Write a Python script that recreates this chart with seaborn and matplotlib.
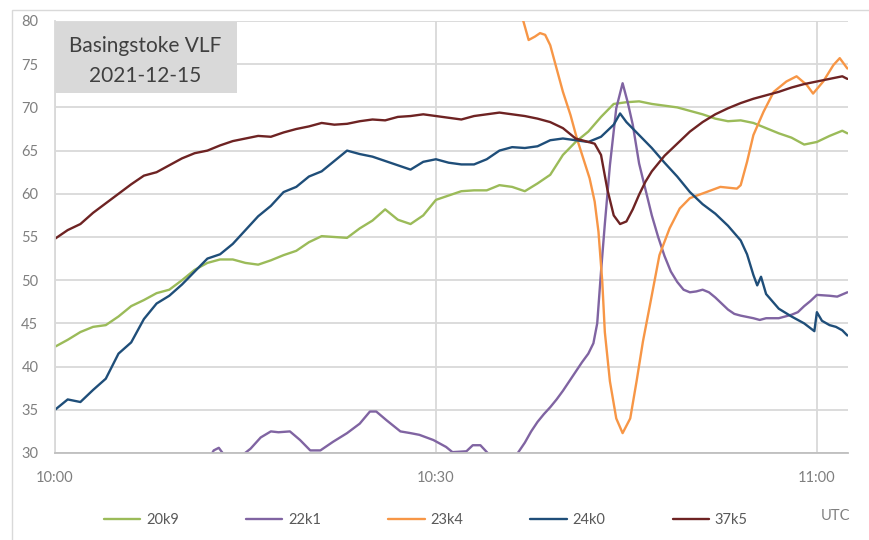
import pandas as pd
import matplotlib.pyplot as plt
import seaborn as sns
from matplotlib.patches import Rectangle

# signal strength, minutes after 10:00 UTC
t_20k9 = list(range(0, 63)) + [62.4]
v_20k9 = [42.3, 43.1, 44.0, 44.6, 44.8, 45.8, 47.0, 47.7, 48.5, 48.9, 50.0, 51.2, 52.0, 52.4, 52.4, 52.0,
          51.8, 52.3, 52.9, 53.4, 54.4, 55.1, 55.0, 54.9, 56.0, 56.9, 58.2, 57.0, 56.5, 57.5, 59.3,
          59.8, 60.3, 60.4, 60.4, 61.0, 60.8, 60.3, 61.2, 62.2, 64.5, 66.0, 67.2, 68.9, 70.4, 70.6, 70.7,
          70.4, 70.2, 70.0, 69.6, 69.2, 68.7, 68.4, 68.5, 68.2, 67.6, 67.0, 66.5, 65.7, 66.0, 66.7, 67.3,
          67.0]

t_22k1 = [11.5, 12.0, 12.5, 12.9, 13.3, 14.0, 14.8, 15.4, 16.2, 17.0, 17.6, 18.5, 19.3, 20.1, 20.9,
          21.9, 23.0, 24.0, 24.8, 25.3, 26.1, 27.2, 28.0, 28.7, 29.8, 30.8, 31.3, 32.4, 32.9, 33.5,
          34.2, 35.0, 35.8, 36.4, 37.0, 37.5, 38.0, 38.5, 39.0, 39.5, 40.0, 40.5, 41.0, 41.5, 42.0,
          42.4, 42.7, 43.0, 43.3, 43.7, 44.2, 44.7, 45.1, 45.5, 46.0, 46.5, 47.0, 47.5, 48.0, 48.5,
          49.0, 49.5, 50.0, 50.5, 51.0, 51.5, 52.0, 52.5, 53.0, 53.5, 54.0, 55.0, 55.5, 56.0, 57.0,
          58.0, 58.5, 59.0, 59.5, 60.0, 61.0, 61.6, 62.4]
v_22k1 = [28.5, 29.0, 30.3, 30.6, 29.8, 29.0, 29.8, 30.5, 31.8, 32.5, 32.4, 32.5, 31.5, 30.3, 30.3,
          31.3, 32.3, 33.4, 34.8, 34.8, 33.8, 32.5, 32.3, 32.1, 31.5, 30.7, 30.1, 30.2, 30.9, 30.9,
          29.8, 29.0, 29.3, 29.9, 31.2, 32.5, 33.6, 34.5, 35.3, 36.2, 37.2, 38.3, 39.4, 40.5, 41.5,
          42.7, 45.0, 51.0, 56.5, 63.3, 69.9, 72.8, 70.6, 68.0, 63.5, 60.5, 57.5, 55.0, 52.8, 51.0,
          49.8, 48.9, 48.6, 48.7, 48.9, 48.6, 48.0, 47.3, 46.6, 46.1, 45.9, 45.6, 45.4, 45.6, 45.6,
          46.0, 46.3, 47.0, 47.6, 48.3, 48.2, 48.1, 48.6]

t_23k4 = [36.4, 36.9, 37.3, 37.8, 38.2, 38.6, 39.0, 39.5, 40.0, 40.6, 41.1, 41.6, 42.1, 42.5, 42.8,
          43.1, 43.3, 43.7, 44.2, 44.7, 45.3, 45.8, 46.3, 46.85, 47.6, 48.4, 49.2, 50.0, 51.3, 52.4,
          53.7, 54.0, 54.5, 55.0, 55.8, 56.6, 57.6, 58.4, 59.2, 59.7, 60.5, 61.3, 61.8, 62.4]
v_23k4 = [82.0, 79.9, 77.8, 78.2, 78.6, 78.4, 77.2, 74.5, 71.8, 69.1, 66.4, 64.1, 61.8, 59.1, 55.6,
          49.8, 44.0, 38.3, 34.0, 32.3, 34.0, 38.3, 42.9, 47.1, 52.9, 56.0, 58.3, 59.5, 60.2, 60.8,
          60.6, 61.0, 63.7, 66.8, 69.5, 71.8, 73.0, 73.6, 72.6, 71.6, 73.0, 74.9, 75.7, 74.5]

t_24k0 = list(range(0, 45)) + [44.5, 45, 46, 47, 48, 49, 50, 51, 52, 53, 54, 54.5, 55, 55.3, 55.6,
                               56, 57, 58, 59, 59.8, 60, 60.4, 61, 61.5, 62, 62.4]
v_24k0 = [35.0, 36.2, 35.9, 37.3, 38.6, 41.5, 42.8, 45.5, 47.3, 48.2, 49.5, 51.0, 52.5, 53.0, 54.2, 55.8,
          57.4, 58.6, 60.2, 60.8, 62.0, 62.6, 63.8, 65.0, 64.6, 64.3, 63.8, 63.3, 62.8, 63.7, 64.0,
          63.6, 63.4, 63.4, 64.0, 65.0, 65.4, 65.3, 65.5, 66.2, 66.4, 66.2, 66.0, 66.6, 68.0,
          69.3, 68.3, 66.8, 65.3, 63.6, 62.0, 60.2, 58.8, 57.7, 56.3, 54.6, 53.0, 50.6, 49.4, 50.4,
          48.4, 46.7, 45.8, 45.0, 44.1, 46.3, 45.3, 44.8, 44.6, 44.2, 43.6]

t_37k5 = list(range(0, 42)) + [41.5, 42, 42.5, 43, 43.5, 44, 44.5, 45, 45.5, 46, 46.5, 47] \
    + list(range(48, 63)) + [62.4]
v_37k5 = [54.8, 55.8, 56.5, 57.8, 58.9, 60.0, 61.1, 62.1, 62.5, 63.3, 64.1, 64.7, 65.0, 65.6, 66.1, 66.4,
          66.7, 66.6, 67.1, 67.5, 67.8, 68.2, 68.0, 68.1, 68.4, 68.6, 68.5, 68.9, 69.0, 69.2, 69.0,
          68.8, 68.6, 69.0, 69.2, 69.4, 69.2, 69.0, 68.7, 68.3, 67.6, 66.4,
          66.2, 66.0, 65.8, 64.5, 60.5, 57.5, 56.5, 56.8, 58.2, 59.9, 61.4, 62.6,
          64.4, 65.8, 67.2, 68.3, 69.2, 69.9, 70.5, 71.0, 71.4, 71.8, 72.3, 72.7, 73.0, 73.3, 73.6,
          73.3]

names = ['20k9', '22k1', '23k4', '24k0', '37k5']
colors = ['#9bbb59', '#8064a2', '#f79646', '#1f4e79', '#6e2323']
times = [t_20k9, t_22k1, t_23k4, t_24k0, t_37k5]
values = [v_20k9, v_22k1, v_23k4, v_24k0, v_37k5]

sns.set_theme(style="white")
plt.rcParams['font.family'] = ['Lato', 'DejaVu Sans']

fig = plt.figure(figsize=(8.69, 5.40), dpi=100)
ax = fig.add_axes([55 / 869, 1 - 453 / 540, 793 / 869, 432 / 540])

for name, t, v, c in zip(names, times, values, colors):
    df = pd.DataFrame({'t': t, 'v': v})
    sns.lineplot(data=df, x='t', y='v', ax=ax, color=c, lw=1.7, label=name,
                 sort=False, estimator=None)

ax.set_xlim(0, 62.45)
ax.set_ylim(30, 80)
ax.set_yticks(range(30, 81, 5))
ax.set_xticks([0, 30, 60])
ax.set_xticklabels(['10:00', '10:30', '11:00'])
ax.set_xlabel('')
ax.set_ylabel('')
ax.grid(True, color='#d9d9d9', lw=1.3)
ax.set_axisbelow(True)
for s in ['top', 'right']:
    ax.spines[s].set_visible(False)
ax.spines['left'].set_color('#d9d9d9')
ax.spines['bottom'].set_color('#bfbfbf')
ax.spines['left'].set_linewidth(1.3)
ax.spines['bottom'].set_linewidth(1.3)
ax.tick_params(axis='both', length=0, labelsize=10.5, colors='#7f7f7f')
ax.tick_params(axis='y', pad=12)
ax.tick_params(axis='x', pad=13)

# title box
ax.add_patch(Rectangle((0.0, 0.833), 0.2295, 0.165, transform=ax.transAxes,
                       facecolor='#d9d9d9', edgecolor='none', zorder=5))
ax.text(0.1135, 0.942, 'Basingstoke VLF', transform=ax.transAxes, ha='center', va='center',
        fontsize=15, color='#404040', zorder=6)
ax.text(0.1135, 0.873, '2021-12-15', transform=ax.transAxes, ha='center', va='center',
        fontsize=15, color='#404040', zorder=6)

ax.legend(loc='center', bbox_to_anchor=(0.49, 0.037), bbox_transform=fig.transFigure, ncol=5,
          frameon=False, fontsize=10.5, handlelength=2.5, columnspacing=4.6, handletextpad=0.4,
          labelcolor='#595959')
fig.text(835 / 869, 1 - 516 / 540, 'UTC', ha='center', va='center', fontsize=10.5, color='#7f7f7f')

# chart area border
fig.patches.append(Rectangle((12 / 869, -0.05), 1.0, 1.05 - 10 / 540, transform=fig.transFigure,
                             fill=False, edgecolor='#d9d9d9', lw=1))

fig.savefig('out.png', dpi=100)
